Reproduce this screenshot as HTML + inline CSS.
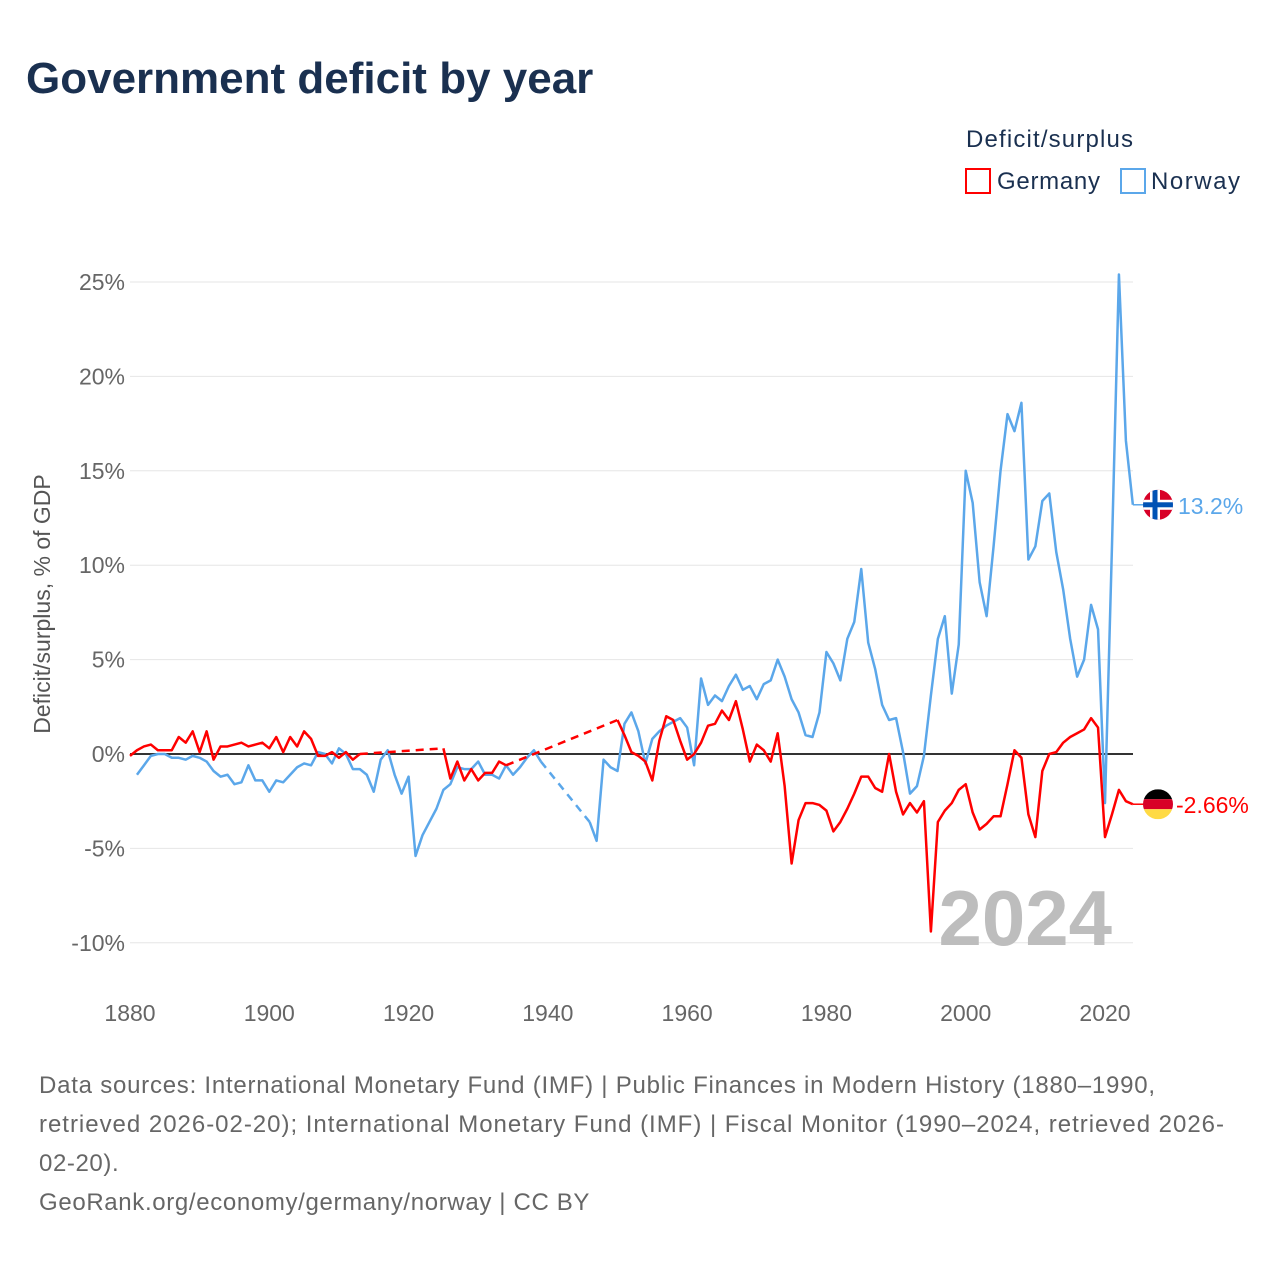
<!DOCTYPE html>
<html><head><meta charset="utf-8"><style>
body{margin:0;background:#fff;font-family:"Liberation Sans",sans-serif;}
svg text{font-family:"Liberation Sans",sans-serif;}
</style></head><body>
<svg id="chart" width="1280" height="1280" viewBox="0 0 1280 1280" xmlns="http://www.w3.org/2000/svg">
<rect width="1280" height="1280" fill="#fff"/>
<text x="26" y="93" font-size="44" font-weight="bold" fill="#1a3050">Government deficit by year</text>
<text x="966" y="147" font-size="24" fill="#1a3050" textLength="167">Deficit/surplus</text>
<g>
<rect x="966" y="169" width="24" height="24" fill="none" stroke="#ff0000" stroke-width="2"/>
<text x="997" y="189" font-size="24" fill="#1a3050" textLength="103">Germany</text></g>
<g>
<rect x="1121" y="169" width="24" height="24" fill="none" stroke="#5ba7ea" stroke-width="2"/>
<text x="1151" y="189" font-size="24" fill="#1a3050" textLength="89">Norway</text></g>
<text transform="translate(50,604) rotate(-90)" text-anchor="middle" font-size="23" fill="#555">Deficit/surplus, % of GDP</text>
<g id="grid"></g><g id="series"></g>
<text x="1112" y="945" text-anchor="end" font-size="78" font-weight="bold" fill="#bdbdbd">2024</text>
<g font-size="24" fill="#666">
<text x="39" y="1093" textLength="1116" lengthAdjust="spacing">Data sources: International Monetary Fund (IMF) | Public Finances in Modern History (1880–1990,</text>
<text x="39" y="1132" textLength="1185" lengthAdjust="spacing">retrieved 2026-02-20); International Monetary Fund (IMF) | Fiscal Monitor (1990–2024, retrieved 2026-</text>
<text x="39" y="1171" letter-spacing="0.6">02-20).</text>
<text x="39" y="1210" letter-spacing="0.65">GeoRank.org/economy/germany/norway | CC BY</text>
</g>
</svg>
<script>
const yTicks=[-10,-5,0,5,10,15,20,25];
const xTicks=[1880,1900,1920,1940,1960,1980,2000,2020];
const startYear=1880;
const germany=[-0.1,0.2,0.4,0.5,0.2,0.2,0.2,0.9,0.6,1.2,0.1,1.2,-0.3,0.4,0.4,0.5,0.6,0.4,0.5,0.6,0.3,0.9,0.1,0.9,0.4,1.2,0.8,-0.1,-0.1,0.1,-0.2,0.1,-0.3,0.0,
null,null,null,null,null,null,null,null,null,null,null,0.3,-1.3,-0.4,-1.4,-0.8,-1.4,-1.0,-1.0,-0.4,-0.6,
null,null,null,null,null,null,null,null,null,null,null,null,null,null,null,1.8,1.0,0.1,-0.1,-0.4,-1.4,0.7,2.0,1.8,0.7,-0.3,0.0,0.6,1.5,1.6,2.3,1.8,2.8,1.3,-0.4,
0.5,0.2,-0.4,1.1,-1.7,-5.8,-3.5,-2.6,-2.6,-2.7,-3.0,-4.1,-3.6,-2.9,-2.1,-1.2,-1.2,-1.8,-2.0,0.0,
-2.0,-3.2,-2.6,-3.1,-2.5,-9.4,-3.6,-3.0,-2.6,-1.9,-1.6,-3.1,-4.0,-3.7,-3.3,-3.3,-1.6,0.2,-0.2,-3.2,-4.4,-0.9,0.0,0.1,0.6,0.9,1.1,1.3,1.9,1.4,-4.4,-3.2,-1.9,-2.5,-2.66];
const norway=[null,-1.1,-0.6,-0.1,0.0,0.0,-0.2,-0.2,-0.3,-0.1,-0.2,-0.4,-0.9,-1.2,-1.1,-1.6,-1.5,-0.6,-1.4,-1.4,-2.0,-1.4,-1.5,-1.1,-0.7,-0.5,-0.6,0.1,0.0,-0.5,0.3,0.0,-0.8,-0.8,-1.1,-2.0,-0.3,0.2,-1.1,-2.1,-1.2,-5.4,-4.3,-3.6,-2.9,-1.9,-1.6,-0.7,-0.8,-0.8,-0.4,-1.1,-1.1,-1.3,-0.6,-1.1,-0.7,-0.2,0.2,-0.4,
null,null,null,null,null,null,-3.6,-4.6,-0.3,-0.7,-0.9,1.6,2.2,1.2,-0.5,0.8,1.2,1.5,1.7,1.9,1.4,-0.6,4.0,2.6,3.1,2.8,3.6,4.2,3.4,3.6,2.9,3.7,3.9,5.0,4.1,2.9,2.2,1.0,0.9,2.2,5.4,4.8,3.9,6.1,7.0,9.8,5.9,4.5,2.6,1.8,1.9,0.1,-2.1,-1.7,-0.1,3.1,6.1,7.3,3.2,5.8,
15.0,13.3,9.1,7.3,11.0,15.0,18.0,17.1,18.6,10.3,11.0,13.4,13.8,10.7,8.7,6.1,4.1,5.0,7.9,6.6,-2.6,11.0,25.4,16.6,13.2];
const X=y=>130+(y-1880)*(975/140);
const Y=v=>754-v*18.88;
const NS='http://www.w3.org/2000/svg';
function mk(t,a,p){const e=document.createElementNS(NS,t);for(const k in a)e.setAttribute(k,a[k]);p.appendChild(e);return e;}
const grid=document.getElementById('grid');
yTicks.forEach(t=>{
  const l=mk('line',{x1:130,x2:1133,y1:Y(t),y2:Y(t),stroke:t===0?'#333':'#e6e6e6','stroke-width':t===0?2:1},grid);
  
  
  const tx=mk('text',{x:125,y:Y(t)+8,'text-anchor':'end','font-size':23,fill:'#666'},grid);
  tx.textContent=t+'%';
  
  
});
xTicks.forEach(t=>{
  const tx=mk('text',{x:X(t),y:1021,'text-anchor':'middle','font-size':23,fill:'#666'},grid);
  tx.textContent=t;
  
  
});
const ser=document.getElementById('series');
function draw(vals,color,name){
  let seg=[],last=null,prevNull=false;
  const segs=[],dashes=[];
  vals.forEach((v,i)=>{
    const yr=startYear+i;
    if(v===null){if(seg.length){segs.push(seg);seg=[];}prevNull=true;return;}
    const p=[X(yr),Y(v)];
    if(prevNull&&last)dashes.push([last,p]);
    seg.push(p);last=p;prevNull=false;
  });
  if(seg.length)segs.push(seg);
  segs.forEach(s=>{
    const e=mk('polyline',{points:s.map(p=>p.join(',')).join(' '),fill:'none',stroke:color,'stroke-width':2.5,'stroke-linejoin':'round'},ser);
    
    
  });
  dashes.forEach(d=>{
    const e=mk('line',{x1:d[0][0],y1:d[0][1],x2:d[1][0],y2:d[1][1],stroke:color,'stroke-width':2.5,'stroke-dasharray':'8,6'},ser);
    
    
  });
  const lv=vals[vals.length-1];
  mk('line',{x1:X(2024),x2:1144,y1:Y(lv),y2:Y(lv),stroke:color,'stroke-width':1.5},ser);
  return lv;
}
const nv=draw(norway,'#5ba7ea','norway');
const gv=draw(germany,'#ff0000','germany');
const defs=mk('defs',{},ser);
function flag(cy,kind){
  const g=mk('g',{},ser);
  
  
  const cp=mk('clipPath',{id:'c'+kind},defs);mk('circle',{cx:1158,cy:cy,r:15},cp);
  const gg=mk('g',{'clip-path':'url(#c'+kind+')'},g);
  if(kind==='norway'){
    mk('rect',{x:1143,y:cy-15,width:30,height:30,fill:'#d80027'},gg);
    mk('rect',{x:1143,y:cy-5,width:30,height:10,fill:'#fff'},gg);
    mk('rect',{x:1150,y:cy-15,width:10,height:30,fill:'#fff'},gg);
    mk('rect',{x:1143,y:cy-2.5,width:30,height:5,fill:'#0052b4'},gg);
    mk('rect',{x:1152.5,y:cy-15,width:5,height:30,fill:'#0052b4'},gg);
  }else{
    mk('rect',{x:1143,y:cy-15,width:30,height:10,fill:'#000'},gg);
    mk('rect',{x:1143,y:cy-5,width:30,height:10,fill:'#d80027'},gg);
    mk('rect',{x:1143,y:cy+5,width:30,height:10,fill:'#ffda44'},gg);
  }
}
flag(Y(nv),'norway');flag(Y(gv),'germany');
const l1=mk('text',{x:1178,y:Y(nv)+9,'font-size':23,fill:'#5ba7ea'},ser);l1.textContent=nv+'%';


const l2=mk('text',{x:1176,y:Y(gv)+9,'font-size':23,fill:'#ff0000'},ser);l2.textContent=gv+'%';


</script>
</body></html>
